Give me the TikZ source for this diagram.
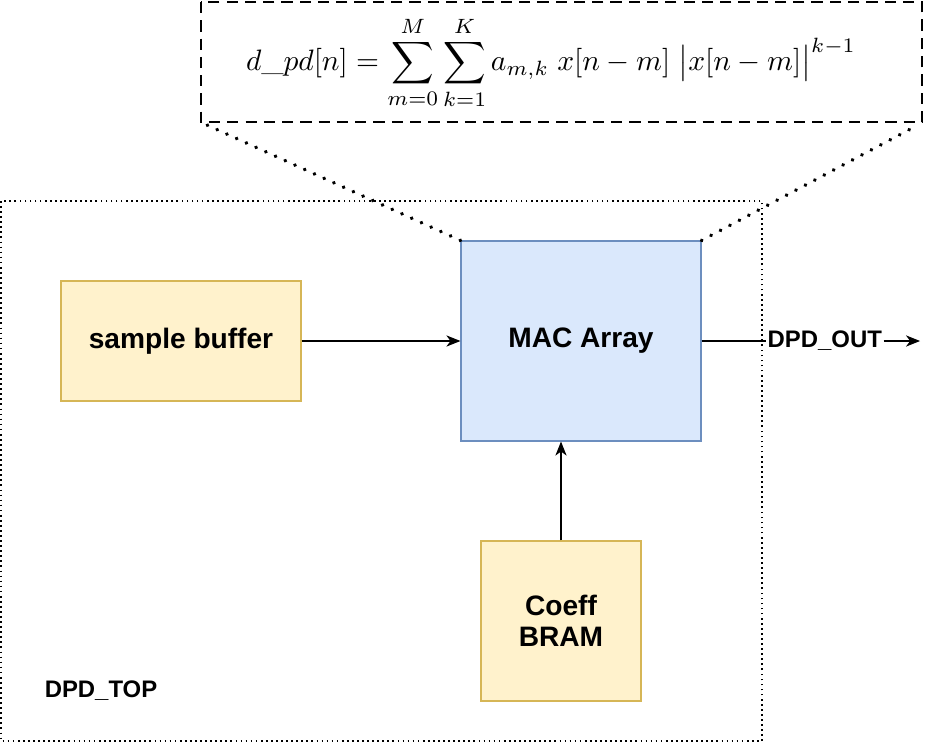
\documentclass[tikz,border=0pt]{standalone}
\usepackage{amsmath}
\usepackage{graphicx}
\usepackage{fontspec}
\setsansfont{Liberation Sans}
\usetikzlibrary{arrows.meta,positioning}

\definecolor{yfill}{HTML}{FFF2CC}
\definecolor{yline}{HTML}{D6B656}
\definecolor{bfill}{HTML}{DAE8FC}
\definecolor{bline}{HTML}{6C8EBF}

\tikzset{
  blk/.style={draw=yline, fill=yfill, line width=0.8pt, align=center,
    font=\fontsize{20}{24}\selectfont\sffamily\bfseries},
  mac/.style={blk, draw=bline, fill=bfill},
  lbl/.style={font=\fontsize{17}{20}\selectfont\sffamily\bfseries, inner sep=1pt},
  arr/.style={-{Stealth[length=10pt,width=8pt,inset=3pt]}, line width=0.8pt},
  dots/.style={line width=2.8pt, dash pattern=on 0.1pt off 7.5pt, line cap=round}
}

\begin{document}
\begin{tikzpicture}[x=0.025cm, y=-0.025cm]
\useasboundingbox (0,0) rectangle (938,742);

% outer block and zoom box
\draw[line width=0.8pt, dash pattern=on 1.2pt off 2.4pt] (1,201) rectangle (762,741);
\draw[line width=1.1pt, dash pattern=on 8pt off 5pt] (201,2) rectangle (922,122);

\node (eq) at (551,63) {\scalebox{2.1}{$\displaystyle d\_pd[n] = \sum_{m=0}^{M}\sum_{k=1}^{K} a_{m,k}\; x[n-m]\;\bigl|x[n-m]\bigr|^{k-1}$}};
\coordinate (zl) at (207,125);
\coordinate (zr) at (918,125);

% blocks
\node[blk, minimum width=6cm, minimum height=3cm] (buf) at (181,341) {sample buffer};
\node[mac, minimum width=6cm, minimum height=5cm] (mac) at (581,341) {MAC Array};
\node[blk, minimum width=4cm, minimum height=4cm] (coef) at (561,621) {Coeff\\[-2pt]BRAM};
\node[lbl] (top) at (101,691) {DPD\_TOP};
\node[lbl, anchor=west] (out) at (766,341) {DPD\_OUT};
\coordinate (outend) at (920,341);

% connections
\draw[arr] (buf) -- (mac);
\draw[arr] (coef) -- (coef |- mac.south);
\draw[line width=0.8pt] (mac) -- (out);
\draw[arr] (out) -- (outend);

% zoom lines
\draw[dots] (mac.north west) -- (zl);
\draw[dots] (mac.north east) -- (zr);

\end{tikzpicture}
\end{document}
